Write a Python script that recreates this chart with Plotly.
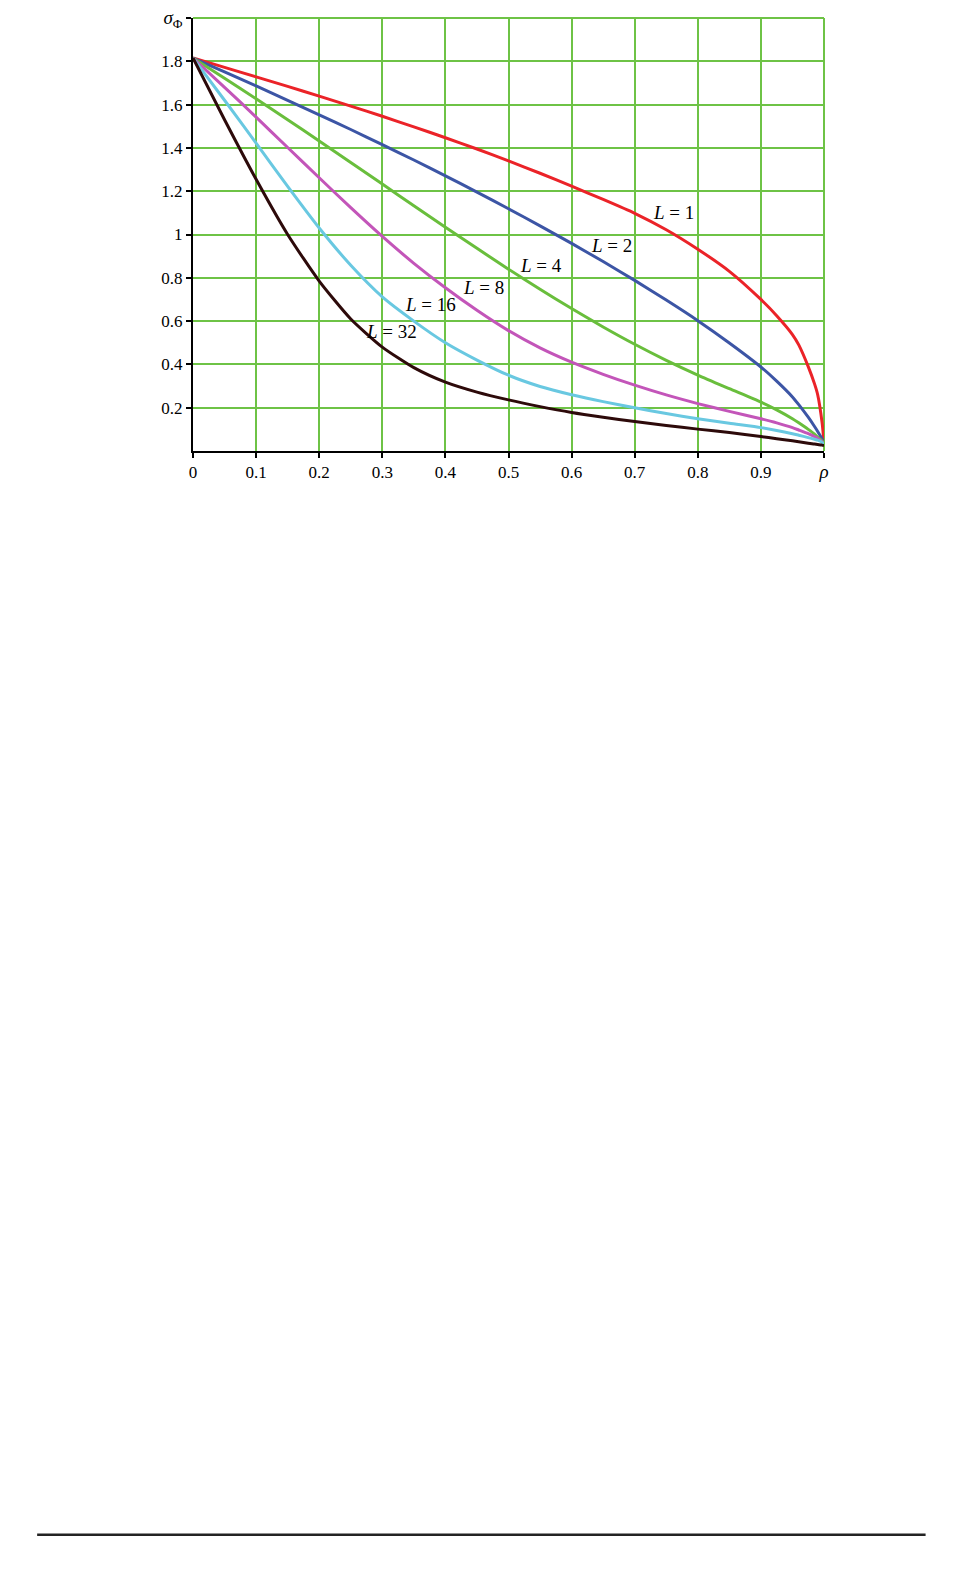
import plotly.graph_objects as go

# coherence values (x axis)
rho = [0, 0.05, 0.1, 0.15, 0.2, 0.25, 0.3, 0.35, 0.4, 0.45, 0.5, 0.55, 0.6,
       0.65, 0.7, 0.75, 0.8, 0.85, 0.9, 0.925, 0.95, 0.96, 0.975, 0.985, 0.99, 0.997, 1.0]

# phase std, one list per number of looks
sigma_L1 = [1.815, 1.772, 1.728, 1.684, 1.639, 1.593, 1.546, 1.497, 1.447, 1.395, 1.34, 1.283,
            1.223, 1.162, 1.098, 1.022, 0.932, 0.83, 0.70, 0.625, 0.538, 0.49, 0.39, 0.31,
            0.26, 0.13, 0.04]
sigma_L2 = [1.815, 1.751, 1.686, 1.62, 1.553, 1.485, 1.415, 1.344, 1.271, 1.196, 1.119, 1.04,
            0.959, 0.875, 0.788, 0.697, 0.602, 0.499, 0.388, 0.323, 0.25, 0.214, 0.156, 0.113,
            0.09, 0.055, 0.035]
sigma_L4 = [1.815, 1.722, 1.627, 1.53, 1.432, 1.333, 1.233, 1.133, 1.034, 0.936, 0.84, 0.747,
            0.658, 0.573, 0.493, 0.419, 0.351, 0.288, 0.226, 0.19, 0.149, 0.13, 0.10, 0.078,
            0.064, 0.046, 0.033]
sigma_L8 = [1.815, 1.68, 1.542, 1.402, 1.262, 1.124, 0.991, 0.867, 0.754, 0.65, 0.556, 0.476,
            0.41, 0.354, 0.304, 0.259, 0.219, 0.183, 0.149, 0.13, 0.108, 0.097, 0.08, 0.066,
            0.058, 0.042, 0.03]
sigma_L16 = [1.815, 1.62, 1.422, 1.222, 1.03, 0.858, 0.712, 0.60, 0.50, 0.42, 0.35, 0.298,
             0.26, 0.228, 0.2, 0.173, 0.149, 0.128, 0.108, 0.095, 0.08, 0.073, 0.062, 0.054,
             0.05, 0.04, 0.03]
sigma_L32 = [1.815, 1.53, 1.255, 1.0, 0.785, 0.61, 0.48, 0.385, 0.318, 0.272, 0.236, 0.205,
             0.178, 0.156, 0.136, 0.118, 0.101, 0.085, 0.067, 0.057, 0.047, 0.043, 0.036, 0.032,
             0.03, 0.027, 0.025]

series = [
    ("L = 1", sigma_L1, "rgb(235,35,40)"),
    ("L = 2", sigma_L2, "rgb(60,85,165)"),
    ("L = 4", sigma_L4, "rgb(105,190,60)"),
    ("L = 8", sigma_L8, "rgb(195,85,185)"),
    ("L = 16", sigma_L16, "rgb(105,200,225)"),
    ("L = 32", sigma_L32, "rgb(45,10,10)"),
]

# curve labels: text, x, y
label_text = ["<i>L</i> = 1", "<i>L</i> = 2", "<i>L</i> = 4", "<i>L</i> = 8",
              "<i>L</i> = 16", "<i>L</i> = 32"]
label_x = [0.761, 0.663, 0.552, 0.46, 0.376, 0.314]
label_y = [1.10, 0.949, 0.857, 0.755, 0.677, 0.552]

x_ticks = [0, 0.1, 0.2, 0.3, 0.4, 0.5, 0.6, 0.7, 0.8, 0.9, 1.0]
x_ticktext = ["0", "0.1", "0.2", "0.3", "0.4", "0.5", "0.6", "0.7", "0.8", "0.9",
              "<span style='font-size:19px'><i>ρ</i></span>"]
y_ticks = [0.2, 0.4, 0.6, 0.8, 1.0, 1.2, 1.4, 1.6, 1.8, 2.0]
y_ticktext = ["0.2", "0.4", "0.6", "0.8", "1", "1.2", "1.4", "1.6", "1.8",
              "<span style='font-size:19px'><i>σ</i><sub>Φ</sub></span>"]

grid_green = "rgb(110,195,70)"
serif = "Liberation Serif, Times New Roman, serif"

fig = go.Figure()

for name, vals, col in series:
    fig.add_trace(
        go.Scatter(
            x=rho,
            y=vals,
            mode="lines",
            name=name,
            line=dict(color=col, width=3, shape="spline", smoothing=0.6),
        )
    )

for txt, lx, ly in zip(label_text, label_x, label_y):
    fig.add_annotation(
        x=lx, y=ly, text=txt, showarrow=False,
        font=dict(family=serif, size=19, color="black"),
    )

# green frame on top and right (grid at the limits)
fig.add_shape(type="line", xref="paper", yref="paper", x0=0, x1=1, y0=1, y1=1,
              line=dict(color=grid_green, width=2), layer="below")
fig.add_shape(type="line", xref="paper", yref="paper", x0=1, x1=1, y0=0, y1=1,
              line=dict(color=grid_green, width=2), layer="below")

# rule near the bottom of the page
fig.add_shape(type="line", xref="paper", yref="paper", x0=-0.247, x1=1.161,
              y0=-2.503, y1=-2.503, line=dict(color="rgb(35,35,35)", width=2.5))

axis_style = dict(
    showgrid=True,
    gridcolor=grid_green,
    gridwidth=2,
    zeroline=False,
    showline=True,
    linecolor="black",
    linewidth=2,
    ticks="outside",
    ticklen=5,
    tickwidth=2,
    tickcolor="black",
    tickfont=dict(family=serif, size=17, color="black"),
    automargin=False,
    ticklabeloverflow="allow",
)

fig.update_xaxes(range=[0, 1], tickvals=x_ticks, ticktext=x_ticktext, **axis_style)
fig.update_yaxes(range=[0, 2], tickvals=y_ticks, ticktext=y_ticktext, **axis_style)

# the page body adds 8px, so margins are trimmed by that much on top/left
fig.update_layout(
    width=963,
    height=1585,
    margin=dict(l=185, r=147, t=10, b=1142, pad=0),
    showlegend=False,
    plot_bgcolor="white",
    paper_bgcolor="white",
)

fig.write_html("out.html")
